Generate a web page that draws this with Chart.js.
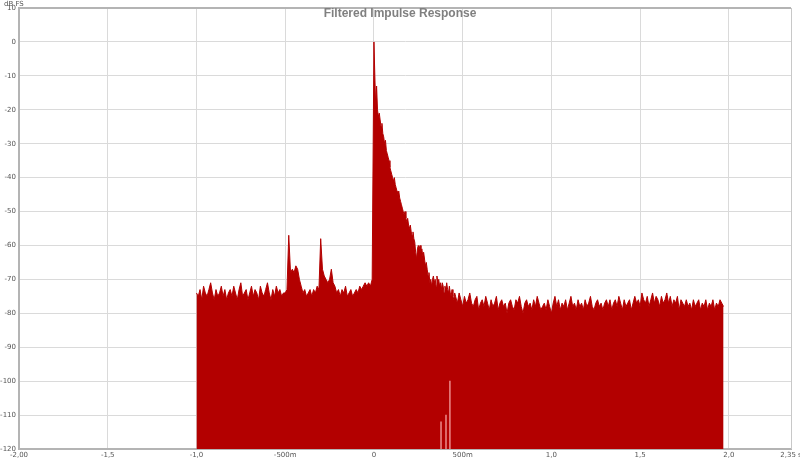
<!DOCTYPE html>
<html>
<head>
<meta charset="utf-8">
<title>Filtered Impulse Response</title>
<script src="https://cdn.jsdelivr.net/npm/chart.js@4/dist/chart.umd.min.js"></script>
<style>
    html, body { margin: 0; padding: 0; background: #ffffff; }
    #wrap { width: 800px; height: 460px; }
</style>
</head>
<body>
<div id="wrap"><canvas id="ir" width="800" height="460"></canvas></div>
<script>
(function() {
    "use strict";

    // x axis ticks (seconds) and the labels REW puts on them
    var tickValues = [-2.0, -1.5, -1.0, -0.5, 0, 0.5, 1.0, 1.5, 2.0, 2.35];
    var tickLabels = ['-2,00', '-1,5', '-1,0', '-500m', '0', '500m', '1,0', '1,5', '2,0', '2,35 s'];

    // pre-ringing noise floor, -1.00 .. -0.51 s every 10 ms (dB FS)
    var floorStart = -1.00;
    var floorDb = [
        -74, -75, -73, -76, -72, -74, -75, -73, -71, -74,
        -76, -73, -75, -74, -72, -75, -73, -76, -74, -73,
        -75, -72, -74, -76, -73, -71, -75, -74, -73, -76,
        -74, -72, -75, -73, -74, -76, -72, -74, -75, -73,
        -71, -74, -76, -73, -75, -72, -74, -73, -75, -74
    ];

    // the two early spikes, -0.50 .. -0.01 s every 10 ms
    var echoStart = -0.50;
    var echoDb = [
        -74, -73, -57, -68, -67, -68, -66, -67, -70, -72,
        -74, -73, -75, -74, -73, -75, -73, -74, -72, -73,
        -58, -67, -69, -70, -71, -70, -67, -71, -72, -74,
        -73, -75, -73, -74, -72, -75, -74, -73, -75, -74,
        -73, -74, -72, -73, -72, -71, -72, -71, -72, -70
    ];

    // main peak and decay, 0 .. 0.455 s every 5 ms
    var decayStart = 0;
    var decayDb = [
          0, -10, -19, -13, -20, -22, -21, -23, -25, -24,
        -27, -28, -30, -29, -32, -33, -34, -35, -37, -38,
        -39, -40, -41, -40, -42, -43, -44, -45, -44, -46,
        -47, -48, -49, -50, -51, -50, -52, -53, -52, -54,
        -55, -54, -56, -57, -56, -58, -59, -62, -64, -61,
        -60, -61, -60, -62, -61, -63, -62, -64, -66, -65,
        -67, -69, -68, -71, -70, -72, -70, -69, -71, -70,
        -72, -69, -71, -70, -72, -71, -73, -71, -72, -74,
        -72, -73, -71, -73, -74, -72, -74, -75, -73, -75,
        -76, -74
    ];

    // late noise floor, 0.46 .. 1.97 s every 10 ms
    var tailStart = 0.46;
    var tailDb = [
        -75, -77, -74, -76, -78, -75, -77, -76, -74, -77,
        -78, -76, -75, -79, -77, -76, -78, -75, -77, -79,
        -76, -78, -77, -75, -79, -77, -76, -78, -77, -80,
        -77, -76, -78, -79, -76, -77, -75, -78, -80, -77,
        -76, -78, -77, -79, -76, -78, -75, -77, -79, -78,
        -77, -79, -76, -78, -80, -77, -75, -78, -76, -79,
        -77, -78, -76, -79, -77, -75, -78, -77, -79, -76,
        -78, -77, -79, -76, -78, -77, -75, -78, -79, -77,
        -76, -78, -77, -79, -77, -76, -78, -76, -79, -77,
        -76, -78, -75, -77, -79, -76, -78, -77, -76, -79,
        -77, -75, -77, -76, -78, -74, -76, -77, -75, -78,
        -76, -74, -77, -75, -76, -78, -75, -77, -76, -74,
        -77, -75, -78, -76, -77, -75, -79, -76, -77, -78,
        -76, -78, -77, -79, -76, -78, -77, -76, -79, -77,
        -78, -76, -79, -77, -78, -76, -79, -77, -78, -76,
        -77, -78
    ];

    // thin light streaks near the bottom of the fill
    var gapTimes = [0.378, 0.406, 0.428];
    var gapTopDb = [-112, -110, -100];

    var RED = '#b30000';

    function segment(start, step, values) {
        var pts = [];
        for (var i = 0; i < values.length; ++i) {
            pts.push({ x: +(start + i * step).toFixed(4), y: values[i] });
        }
        return pts;
    }

    var points = []
        .concat(segment(floorStart, 0.01, floorDb))
        .concat(segment(echoStart, 0.01, echoDb))
        .concat(segment(decayStart, 0.005, decayDb))
        .concat(segment(tailStart, 0.01, tailDb));

    var gaps = gapTimes.map(function(t, i) {
        return { x: t, y: [-120, gapTopDb[i]] };
    });

    // title, axis caption and the frame are drawn over the plot like REW does
    var frame = {
        id: 'frame',
        afterDraw: function(chart) {
            var ctx = chart.ctx;
            var a = chart.chartArea;
            ctx.save();
            ctx.strokeStyle = '#b4b4b4';
            ctx.lineWidth = 2;
            ctx.beginPath();
            ctx.moveTo(a.left, a.top);
            ctx.lineTo(a.right, a.top);
            ctx.stroke();
            ctx.lineWidth = 1;
            ctx.strokeStyle = '#c8c8c8';
            ctx.beginPath();
            ctx.moveTo(a.right + 0.5, a.top);
            ctx.lineTo(a.right + 0.5, a.bottom);
            ctx.stroke();

            ctx.fillStyle = '#808080';
            ctx.font = 'bold 12px "Liberation Sans", sans-serif';
            ctx.textAlign = 'center';
            ctx.textBaseline = 'middle';
            ctx.fillText('Filtered Impulse Response', 400, 14);

            ctx.fillStyle = '#555555';
            ctx.font = '7px "DejaVu Sans", sans-serif';
            ctx.textAlign = 'left';
            ctx.fillText('dB FS', 4, 4);
            ctx.restore();
        }
    };

    new Chart(document.getElementById('ir'), {
        type: 'line',
        data: {
            datasets: [{
                type: 'bar',
                data: gaps,
                backgroundColor: 'rgba(235, 140, 140, 0.9)',
                barThickness: 1,
                grouped: false,
                order: 0
            }, {
                data: points,
                borderColor: RED,
                backgroundColor: RED,
                borderWidth: 1,
                fill: 'start',
                pointRadius: 0,
                tension: 0,
                order: 1
            }]
        },
        options: {
            responsive: false,
            animation: false,
            events: [],
            layout: {
                autoPadding: false,
                padding: { top: 8, right: 9, bottom: 0, left: 0 }
            },
            plugins: {
                legend: { display: false },
                title: { display: false },
                tooltip: { enabled: false }
            },
            scales: {
                x: {
                    type: 'linear',
                    min: -2.0,
                    max: 2.35,
                    offset: false,
                    afterBuildTicks: function(scale) {
                        scale.ticks = tickValues.map(function(v) { return { value: v }; });
                    },
                    afterFit: function(scale) {
                        scale.height = 11;
                        scale.paddingLeft = 0;
                        scale.paddingRight = 0;
                    },
                    grid: { color: '#dadada', drawTicks: false, offset: false },
                    border: { color: '#b4b4b4', width: 2 },
                    ticks: {
                        autoSkip: false,
                        maxRotation: 0,
                        padding: 2,
                        color: '#555555',
                        font: { family: 'DejaVu Sans', size: 7 },
                        callback: function(value) {
                            var i = tickValues.indexOf(value);
                            return i >= 0 ? tickLabels[i] : '';
                        }
                    }
                },
                y: {
                    min: -120,
                    max: 10,
                    afterFit: function(scale) {
                        scale.width = 19;
                    },
                    grid: { color: '#dadada', drawTicks: false },
                    border: { color: '#b4b4b4', width: 2 },
                    ticks: {
                        stepSize: 10,
                        padding: 3,
                        color: '#555555',
                        font: { family: 'DejaVu Sans', size: 7 }
                    }
                }
            }
        },
        plugins: [frame]
    });
}());
</script>
</body>
</html>
